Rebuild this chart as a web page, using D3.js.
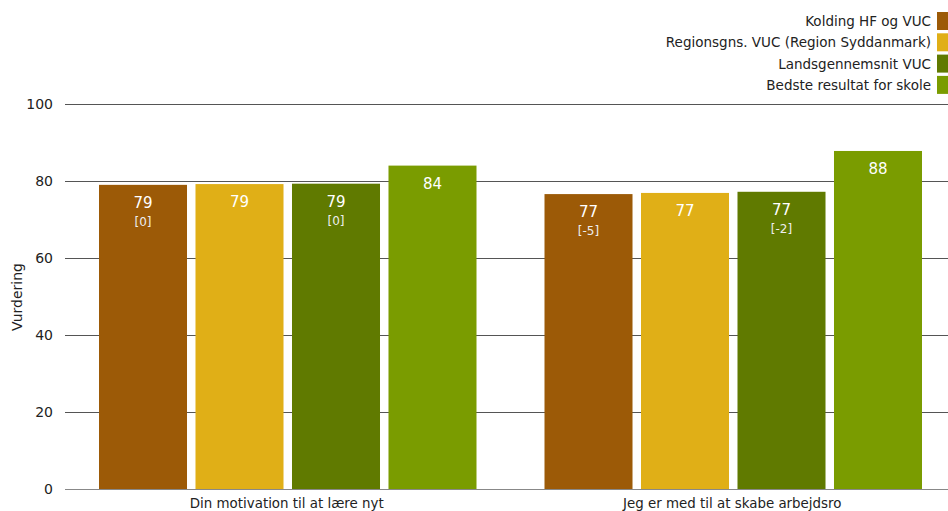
<!DOCTYPE html>
<html><head><meta charset="utf-8">
<script src="https://cdn.jsdelivr.net/npm/d3@7"></script>
<style>body{margin:0;background:#fff;}svg{display:block;font-family:Tahoma,"DejaVu Sans",sans-serif;}</style>
</head><body>
<svg id="c" width="948" height="511"></svg>
<script>
const categories = ["Din motivation til at lære nyt", "Jeg er med til at skabe arbejdsro"];
const seriesNames = ["Kolding HF og VUC", "Regionsgns. VUC (Region Syddanmark)", "Landsgennemsnit VUC", "Bedste resultat for skole"];
const seriesColors = ["#9C5A07", "#E0AF17", "#607A00", "#7A9C00"];
const values = [[79.0, 79.2, 79.3, 84.0], [76.6, 76.9, 77.2, 87.8]];
const valueLabels = [["79", "79", "79", "84"], ["77", "77", "77", "88"]];
const diffLabels = [["[0]", "", "[0]", ""], ["[-5]", "", "[-2]", ""]];
const yTicks = [0, 20, 40, 60, 80, 100];
const yTitle = "Vurdering";

const svg = d3.select("#c");
const W = 948;
const y = d3.scaleLinear().domain([0, 100]).range([489, 104]);
const x0 = d3.scaleBand().domain(categories).range([65, 956]).paddingInner(0).paddingOuter(0);
const x1 = d3.scaleBand().domain(d3.range(4)).range([34, x0.bandwidth() - 34]).paddingInner(0.088).paddingOuter(0);

// gridlines
const grid = svg.append("g");
yTicks.filter(t => t > 0).forEach(t => {
  grid.append("line").attr("x1", 65).attr("x2", W).attr("y1", Math.round(y(t)) + 0.5).attr("y2", Math.round(y(t)) + 0.5)
    .attr("stroke", "#555").attr("stroke-width", 1);
});
// y axis labels
const yAxis = d3.axisLeft(y).tickValues(yTicks).tickSize(0).tickPadding(0);
const ga = svg.append("g").attr("transform", "translate(53,0)").call(yAxis);
ga.select(".domain").remove();
ga.selectAll("text").attr("font-size", 14).attr("fill", "#222").attr("font-family", "Tahoma,'DejaVu Sans',sans-serif");

svg.append("text").attr("transform", "translate(22,297) rotate(-90)").attr("text-anchor", "middle")
  .attr("font-size", 14).attr("fill", "#222").text(yTitle);

// bars
categories.forEach((cat, ci) => {
  const g = svg.append("g").attr("transform", `translate(${x0(cat)},0)`);
  values[ci].forEach((v, si) => {
    const bx = x1(si), bw = x1.bandwidth();
    g.append("rect").attr("x", bx).attr("y", y(v)).attr("width", bw).attr("height", y(0) - y(v)).attr("fill", seriesColors[si]);
    g.append("text").attr("x", bx + bw / 2).attr("y", y(v) + 23).attr("text-anchor", "middle")
      .attr("font-size", 15).attr("fill", "#fff").text(valueLabels[ci][si]);
    if (diffLabels[ci][si]) {
      g.append("text").attr("x", bx + bw / 2).attr("y", y(v) + 41).attr("text-anchor", "middle")
        .attr("font-size", 12).attr("fill", "#eee").text(diffLabels[ci][si]);
    }
  });
  svg.append("text").attr("x", x0(cat) + x0.bandwidth() / 2 - 1).attr("y", 508).attr("text-anchor", "middle")
    .attr("font-size", 13.4).attr("fill", "#222").text(cat);
});

// baseline
svg.append("line").attr("x1", 65).attr("x2", W).attr("y1", 489.5).attr("y2", 489.5).attr("stroke", "#888").attr("stroke-width", 1);

// legend
const leg = svg.append("g");
seriesNames.forEach((n, i) => {
  const ly = 12 + i * 21.3;
  leg.append("rect").attr("x", 937).attr("y", ly).attr("width", 14).attr("height", 18).attr("fill", seriesColors[i]);
  leg.append("text").attr("x", 931).attr("y", ly + 14).attr("text-anchor", "end").attr("font-size", 13.5).attr("fill", "#222").text(n);
});
</script>
</body></html>
